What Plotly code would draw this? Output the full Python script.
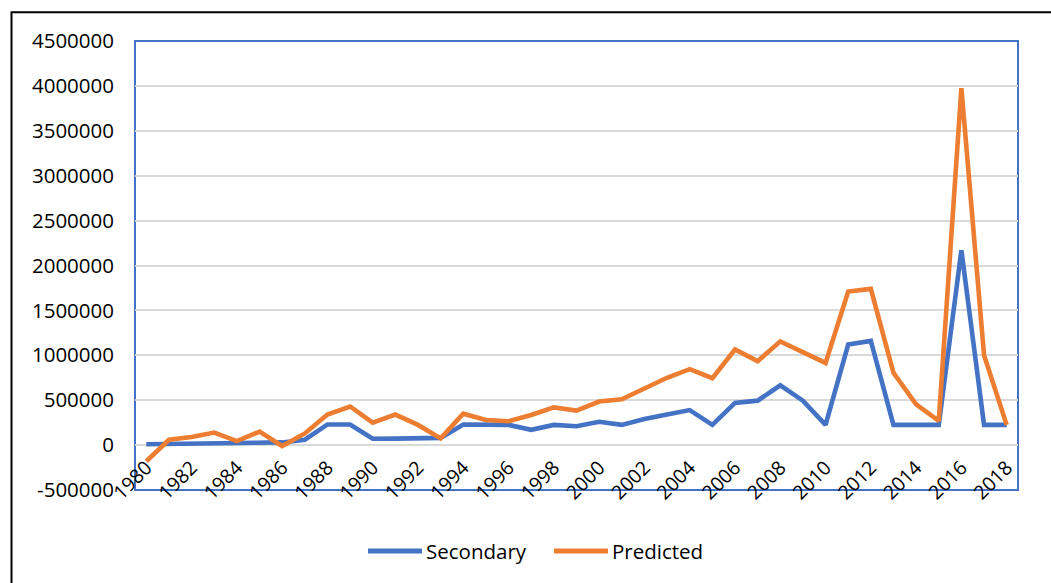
import plotly.graph_objects as go

# Years on the category axis
years = [1980, 1981, 1982, 1983, 1984, 1985, 1986, 1987, 1988, 1989,
         1990, 1991, 1992, 1993, 1994, 1995, 1996, 1997, 1998, 1999,
         2000, 2001, 2002, 2003, 2004, 2005, 2006, 2007, 2008, 2009,
         2010, 2011, 2012, 2013, 2014, 2015, 2016, 2017, 2018]

secondary = [10000, 12000, 15000, 18000, 22000, 25000, 30000, 60000, 230000, 230000,
             70000, 72000, 75000, 80000, 230000, 230000, 225000, 170000, 225000, 210000,
             260000, 225000, 290000, 340000, 390000, 225000, 470000, 495000, 665000, 495000,
             225000, 1120000, 1160000, 225000, 225000, 225000, 2170000, 225000, 225000]

predicted = [-180000, 60000, 90000, 140000, 45000, 150000, -10000, 130000, 340000, 430000,
             250000, 340000, 225000, 75000, 350000, 280000, 265000, 335000, 420000, 385000,
             485000, 510000, 630000, 750000, 845000, 745000, 1065000, 935000, 1155000, 1035000,
             915000, 1710000, 1740000, 805000, 455000, 270000, 3975000, 1000000, 225000]

x_ticks = [1980, 1982, 1984, 1986, 1988, 1990, 1992, 1994, 1996, 1998,
           2000, 2002, 2004, 2006, 2008, 2010, 2012, 2014, 2016, 2018]
y_ticks = [-500000, 0, 500000, 1000000, 1500000, 2000000, 2500000,
           3000000, 3500000, 4000000, 4500000]

series_names = ["Secondary", "Predicted"]
BLUE = "#4472C4"
ORANGE = "#ED7D31"
FONT = "Open Sans"

fig = go.Figure()
fig.add_trace(go.Scatter(x=years, y=secondary, mode="lines", name=series_names[0],
                         line=dict(color=BLUE, width=4.6), showlegend=False))
fig.add_trace(go.Scatter(x=years, y=predicted, mode="lines", name=series_names[1],
                         line=dict(color=ORANGE, width=4.6), showlegend=False))

W, H = 1051, 583
L, R, T, B = 135, 33, 41, 93
plot_h = H - T - B
plot_w = W - L - R


def px_x(px):
    """Pixel column -> paper x."""
    return (px - L) / plot_w


def px_y(py):
    """Pixel row -> paper y."""
    return (H - B - py) / plot_h


zero_pos = px_y(442.5)  # category axis crosses the value axis at 0

# Legend drawn under the plot: a short line sample followed by the series name
legend_shapes = []
legend_texts = []
for name, color, x0 in [(series_names[0], BLUE, 368), (series_names[1], ORANGE, 554)]:
    legend_shapes.append(dict(type="line", xref="paper", yref="paper",
                              x0=px_x(x0), x1=px_x(x0 + 54), y0=px_y(551), y1=px_y(551),
                              line=dict(color=color, width=5)))
    legend_texts.append(dict(text=name, xref="paper", yref="paper",
                             x=px_x(x0 + 56), y=px_y(551), xanchor="left", yanchor="middle",
                             showarrow=False,
                             font=dict(family=FONT, size=20.5, color="black")))

fig.update_layout(
    width=W, height=H,
    margin=dict(l=L, r=R, t=T, b=B),
    paper_bgcolor="white",
    plot_bgcolor="white",
    font=dict(family=FONT, size=20, color="black"),
    showlegend=False,
    xaxis=dict(
        range=[1979.5, 2018.5],
        tickmode="array", tickvals=x_ticks, ticktext=[str(v) for v in x_ticks],
        tickangle=-45,
        showgrid=False, zeroline=False, showline=False, ticks="",
        anchor="free", position=zero_pos,
        ticklabelstandoff=9, ticklabelshift=0,
        tickfont=dict(family=FONT, size=19.5, color="black"),
    ),
    yaxis=dict(
        range=[-500000, 4500000],
        tickmode="array", tickvals=y_ticks, ticktext=[str(v) for v in y_ticks],
        showgrid=True, gridcolor="#D9D9D9", gridwidth=1.5,
        zeroline=False, showline=False, ticks="",
        ticklabelstandoff=20,
        tickfont=dict(family=FONT, size=20.5, color="black"),
    ),
    shapes=[
        # plot-area frame
        dict(type="rect", xref="paper", yref="paper", x0=0, x1=1, y0=0, y1=1,
             line=dict(color=BLUE, width=2), layer="below"),
        # chart-area frame
        dict(type="rect", xref="paper", yref="paper",
             x0=px_x(11.5), x1=1.2, y0=-0.3, y1=px_y(12.3),
             line=dict(color="black", width=2), layer="below"),
    ] + legend_shapes,
    annotations=legend_texts,
)

fig.write_html("out.html")
